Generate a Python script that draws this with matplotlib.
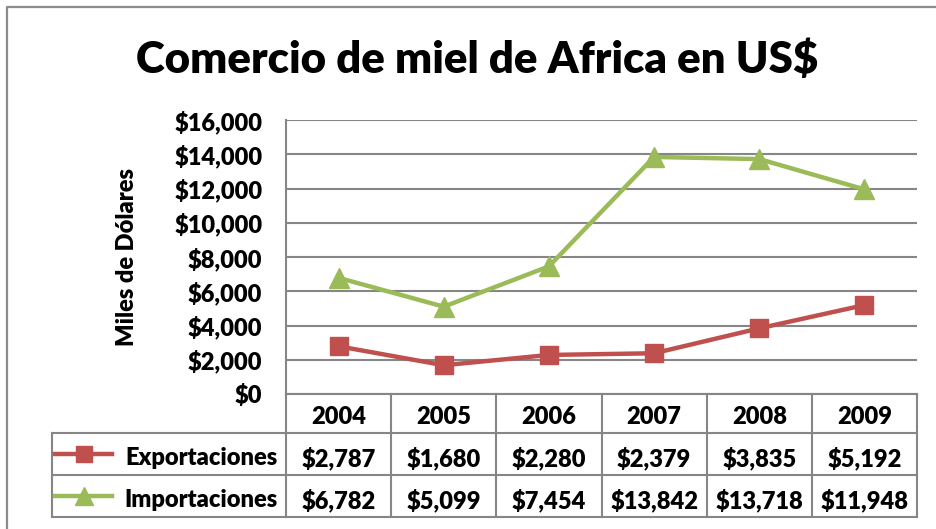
import numpy as np
import matplotlib.pyplot as plt
import matplotlib.transforms as mtransforms
from matplotlib.lines import Line2D

years = ['2004', '2005', '2006', '2007', '2008', '2009']
exportaciones = [2787, 1680, 2280, 2379, 3835, 5192]
importaciones = [6782, 5099, 7454, 13842, 13718, 11948]
series = ['Exportaciones', 'Importaciones']
y_ticks = [0, 2000, 4000, 6000, 8000, 10000, 12000, 14000, 16000]

rojo = '#C0504D'
verde = '#9BBB59'
gris = '#868686'
fuente = ['Lato', 'DejaVu Sans']
peso = 'heavy'

plt.rcParams['font.family'] = fuente
plt.rcParams['font.weight'] = peso

W, H = 936, 529
fig = plt.figure(figsize=(W / 100, H / 100), dpi=100)

# marco exterior (solo se ven el borde superior e izquierdo)
fig.lines.append(Line2D([7 / W, 7 / W, 1.0], [0.0, 1 - 7 / H, 1 - 7 / H],
                        transform=fig.transFigure, color='#8c8c8c', lw=1.6))

ax = fig.add_axes([286 / W, (H - 394) / H, 631 / W, 274 / H])
x = np.arange(len(years))

ax.plot(x, exportaciones, color=rojo, lw=3.2, marker='s', ms=13, zorder=3)
ax.plot(x, importaciones, color=verde, lw=3.2, marker='^', ms=15, zorder=3)

ax.set_xlim(-0.5, len(years) - 0.5)
ax.set_ylim(0, 16000)
ax.set_yticks(y_ticks)
ax.set_yticklabels(['${:,}'.format(v) for v in y_ticks], fontsize=17, fontweight=peso)
ax.set_xticks([])
ax.tick_params(axis='y', length=0, pad=17)
ax.grid(axis='y', color=gris, lw=1.5)
ax.set_axisbelow(True)
for s in ['top', 'right', 'bottom']:
    ax.spines[s].set_visible(False)
ax.spines['left'].set_color(gris)
ax.spines['left'].set_linewidth(1.5)

ax.set_ylabel('Miles de Dólares', fontsize=17, fontweight=peso, labelpad=26)

fig.suptitle('Comercio de miel de Africa en US$', fontsize=31.5, fontweight=peso, x=0.51, y=0.925)

# tabla de datos bajo el eje
tr = mtransforms.blended_transform_factory(ax.transData, ax.transAxes)
fila_h = 42 / 274
filas_y = [0, -39 / 274, -39 / 274 - fila_h, -39 / 274 - 2 * fila_h]
baja = 4 / 274
x_izq = (52 - 286) / 631 * len(years) - 0.5
lk = dict(color=gris, lw=1.5, clip_on=False, transform=tr)

# lineas horizontales
ax.plot([-0.5, len(years) - 0.5], [filas_y[0]] * 2, **lk)
for yy in filas_y[1:]:
    ax.plot([x_izq, len(years) - 0.5], [yy] * 2, **lk)
# lineas verticales
for k in range(len(years) + 1):
    ax.plot([k - 0.5] * 2, [filas_y[0], filas_y[-1]], **lk)
ax.plot([x_izq] * 2, [filas_y[1], filas_y[-1]], **lk)

for k, yr in enumerate(years):
    ax.text(k, (filas_y[0] + filas_y[1]) / 2 - baja, yr, transform=tr, ha='center', va='center',
            fontsize=17, fontweight=peso)

datos = [exportaciones, importaciones]
colores = [rojo, verde]
marcas = ['s', '^']
for j, nombre in enumerate(series):
    yc = (filas_y[j + 1] + filas_y[j + 2]) / 2
    for k, v in enumerate(datos[j]):
        ax.text(k, yc - baja, '${:,}'.format(v), transform=tr, ha='center', va='center',
                fontsize=17, fontweight=peso)
    ax.text(-0.5 - 0.08, yc - baja, nombre, transform=tr, ha='right', va='center',
            fontsize=17, fontweight=peso)
    xs = [x_izq + 0.03, x_izq + 0.3, x_izq + 0.57]
    ax.plot([xs[0], xs[2]], [yc, yc], color=colores[j], lw=3.2, transform=tr, clip_on=False)
    ax.plot([xs[1]], [yc], color=colores[j], marker=marcas[j], ms=12 if j == 0 else 13,
            transform=tr, clip_on=False)

fig.savefig('out.png', dpi=100)
